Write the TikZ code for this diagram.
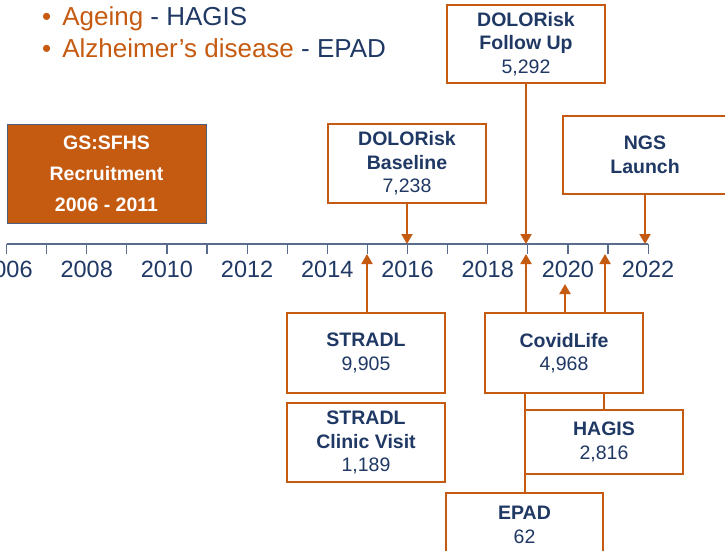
\documentclass[tikz,border=0pt]{standalone}
\usepackage{fontspec}
\setmainfont{Liberation Sans}
\usetikzlibrary{arrows.meta}
\definecolor{rust}{HTML}{C55A11}
\definecolor{navy}{HTML}{1F3864}
\definecolor{slate}{HTML}{5A6C8C}
\tikzset{
  event/.style={draw=rust, line width=2pt, fill=white, text=navy, align=center,
    minimum width=158pt, minimum height=79pt, inner sep=0pt,
    font=\fontsize{19.5}{23.5}\selectfont},
  link/.style={draw=rust, line width=2pt},
  tip/.style={-{Triangle[width=11pt,length=10pt]}},
  axis/.style={draw=slate, line width=1.2pt},
  year/.style={text=navy, font=\fontsize{23.5}{27}\selectfont}
}
\begin{document}
\begin{tikzpicture}[x=1pt, y=-1pt]
\useasboundingbox (0,0) rectangle (725,551);
% legend
\node[anchor=base west, inner sep=0pt, font=\fontsize{26}{30}\selectfont] (ageing) at (42,26)
  {\textcolor{rust}{•\hspace{11pt}Ageing} \textcolor{navy}{- HAGIS}};
\node[anchor=base west, inner sep=0pt, font=\fontsize{26}{30}\selectfont] (alz) at (42,57)
  {\textcolor{rust}{•\hspace{11pt}Alzheimer’s disease} \textcolor{navy}{- EPAD}};
% timeline
\draw[axis] (6.5,244) -- (648,244);
\foreach \yr in {2006,...,2022}
  \draw[axis] ({6.5+40.1*(\yr-2006)},244) -- ++(0,10);
\foreach \yr in {2006,2008,...,2022}
  \node[year] (y\yr) at ({6.5+40.1*(\yr-2006)},269) {\yr};
\coordinate (d2016) at (407,244);
\coordinate (d2019) at (526,244);
\coordinate (d2022) at (645,244);
\coordinate (u2015) at (367,254);
\coordinate (u2019) at (526,254);
\coordinate (u2021) at (605,254);
\coordinate (u2020) at (565,284);
% boxes
\node[draw=navy!80, line width=0.8pt, fill=rust, text=white, align=center,
  minimum width=199pt, minimum height=99pt,
  font=\bfseries\fontsize{19.5}{31}\selectfont] (gs) at (106.5,173.5)
  {GS:SFHS\\Recruitment\\2006 - 2011};
\node[event] (base) at (407,163.5) {\textbf{DOLORisk}\\\textbf{Baseline}\\7,238};
\node[event, minimum height=78pt] (fup) at (526,44) {\textbf{DOLORisk}\\\textbf{Follow Up}\\5,292};
\node[event, minimum width=164pt, minimum height=78pt] (ngs) at (645,155) {\textbf{NGS}\\\textbf{Launch}};
\node[event, minimum height=80pt] (stradl) at (366,353) {\textbf{STRADL}\\9,905};
\node[event] (clinic) at (366,442.5) {\textbf{STRADL}\\\textbf{Clinic Visit}\\1,189};
\node[event, minimum height=80pt] (covid) at (564,353) {\textbf{CovidLife}\\4,968};
% links below CovidLife
\draw[link] (525,493) -- (525,393);
\draw[link] (604,410) -- (604,393);
\node[event, minimum height=64pt] (hagis) at (604,442) {\textbf{HAGIS}\\2,816};
\node[event, minimum width=157pt, minimum height=64pt] (epad) at (524.5,525) {\textbf{EPAD}\\62};
% arrows
\draw[link,tip] (base.south) -- (d2016);
\draw[link,tip] (fup.south -| d2019) -- (d2019);
\draw[link,tip] (ngs.south) -- (d2022);
\draw[link,tip] (stradl.north -| u2015) -- (u2015);
\draw[link,tip] (covid.north -| u2019) -- (u2019);
\draw[link,tip] (covid.north -| u2021) -- (u2021);
\draw[link,tip] (covid.north -| u2020) -- (u2020);
\end{tikzpicture}
\end{document}
